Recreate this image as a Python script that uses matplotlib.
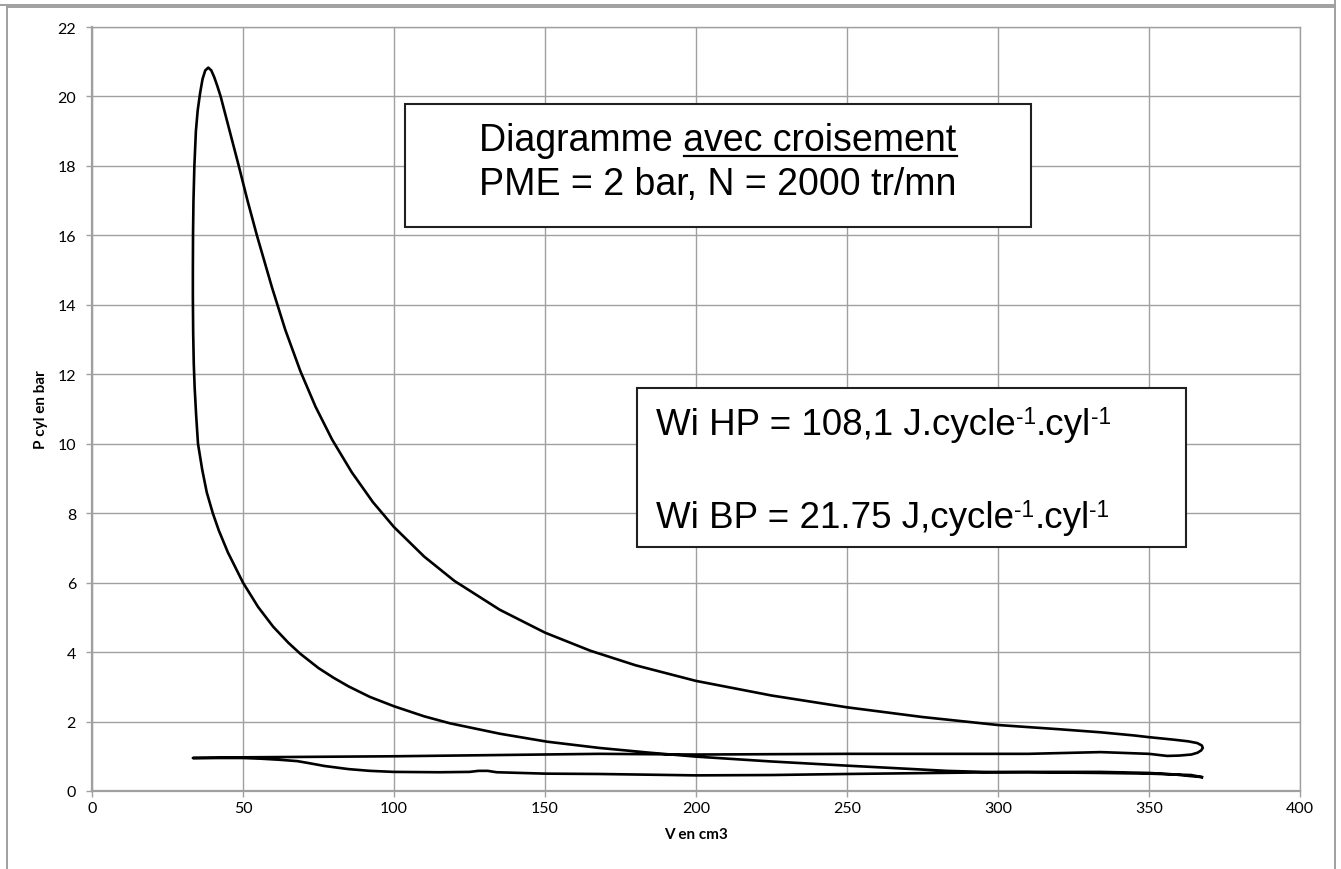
import matplotlib
matplotlib.use("Agg")
import matplotlib.pyplot as plt
from matplotlib.lines import Line2D
from matplotlib.patches import Rectangle

W, H = 1341, 870

# cycle, in order:
# compression, combustion peak, expansion, exhaust, intake
V_CM3 = [367.5, 364, 350, 334, 310, 295, 283, 270, 250, 225, 200, 185, 168,
         150.7, 135, 118.5, 110, 100, 92, 85, 80, 75, 69, 65, 60, 55, 50, 45,
         42, 40, 38, 36.5, 35.1, 34.5, 34.0, 33.7, 33.5, 33.4,
         33.4, 33.45, 33.6, 33.9, 34.4, 35.0, 35.8, 36.6, 37.5, 38.5, 39.5, 40.5,
         41.5, 42.6,
         45, 48.6, 51.5, 54.6, 59.6, 64, 69, 74, 79.5, 86, 93, 100, 110, 120,
         135, 150, 165, 180, 200, 225, 250, 275, 300, 320, 334, 345, 350,
         358, 363, 366, 367.5, 367.8, 367.3, 366, 364, 360, 356,
         350, 334, 310, 250, 200, 168, 100, 66.5, 50, 33.4,
         50, 56, 62, 68, 72, 77, 85, 92, 100, 115, 125, 128, 131, 134, 150, 168,
         200, 225, 250, 280, 310, 334, 350, 358, 363.6, 367.5]
P_BAR = [0.40, 0.46, 0.50, 0.52, 0.54, 0.55, 0.58, 0.64, 0.73, 0.85, 0.99, 1.10,
         1.24, 1.42, 1.65, 1.95, 2.15, 2.44, 2.71, 3.01, 3.26, 3.54, 3.95, 4.27,
         4.73, 5.30, 6.0, 6.87, 7.5, 8.0, 8.6, 9.25, 10.0, 10.8, 11.6, 12.3, 13.2,
         14.2,
         15.0, 16.0, 17.0, 18.0, 19.0, 19.6, 20.1, 20.5, 20.75, 20.83, 20.75, 20.55,
         20.3, 20.0,
         19.2, 18.0, 17.0, 16.0, 14.5, 13.28, 12.09, 11.07, 10.12, 9.18, 8.32, 7.6,
         6.75, 6.05, 5.22, 4.56, 4.04, 3.62, 3.17, 2.75, 2.41, 2.13, 1.90, 1.78,
         1.69, 1.60, 1.55, 1.48, 1.43, 1.38, 1.31, 1.24, 1.17, 1.10, 1.05, 1.02,
         1.01,
         1.07, 1.12, 1.07, 1.07, 1.05, 1.07, 1.0, 0.98, 0.97, 0.95,
         0.95, 0.93, 0.90, 0.86, 0.80, 0.72, 0.63, 0.58, 0.55, 0.54, 0.55, 0.58,
         0.58, 0.54, 0.50, 0.49, 0.45, 0.46, 0.49, 0.52, 0.55, 0.55, 0.52, 0.48,
         0.43, 0.40]

X_TICKS = list(range(0, 401, 50))
Y_TICKS = list(range(0, 23, 2))

TITLE_A = "Diagramme avec croisement"
TITLE_U = "avec croisement"
TITLE_B = "PME = 2 bar, N = 2000 tr/mn"
WI_HP = [("Wi HP = 108,1 J.cycle", False), ("-1", True), (".cyl", False), ("-1", True)]
WI_BP = [("Wi BP = 21.75 J,cycle", False), ("-1", True), (".cyl", False), ("-1", True)]

plt.rcParams["font.family"] = ["Lato", "DejaVu Sans"]
GRID = "#a0a0a0"
ARIAL = "Liberation Sans"


def fx(px):
    return px / W


def fy(py):
    return 1 - py / H


fig = plt.figure(figsize=(W / 100, H / 100), dpi=100)

# outer chart frames (cropped screenshot edges)
for xs, ys in [([0, 1335], [6, 6]), ([1335, 1335], [0, 6]),
               ([7, 1335], [8, 8]), ([7, 7], [8, 870]), ([1335, 1335], [8, 870])]:
    fig.add_artist(Line2D([fx(x) for x in xs], [fy(y) for y in ys],
                          color=GRID, lw=1.4, transform=fig.transFigure))

ax = fig.add_axes([fx(92), fy(792), (1300 - 92) / W, (792 - 28) / H])
ax.plot(V_CM3, P_BAR, color="black", lw=1.9, solid_joinstyle="round")
ax.set_xlim(0, 400)
ax.set_ylim(0, 22)
ax.set_xticks(X_TICKS)
ax.set_yticks(Y_TICKS)
ax.grid(True, color=GRID, lw=1.0)
ax.set_axisbelow(True)
for s in ax.spines.values():
    s.set_color(GRID)
    s.set_linewidth(1.0)
ax.spines["left"].set_linewidth(1.6)
ax.spines["bottom"].set_linewidth(1.6)
ax.tick_params(direction="out", length=4.5, width=1.0, color=GRID,
               labelsize=11.5, labelcolor="black")
ax.tick_params(axis="y", pad=7)
ax.tick_params(axis="x", pad=2.5)

ax.set_ylabel("P cyl en bar", fontweight="bold", fontsize=11, va="center")
ax.yaxis.set_label_coords((41 - 92) / 1208, 0.5)
ax.set_xlabel("V en cm3", fontweight="bold", fontsize=11, va="center")
ax.xaxis.set_label_coords(0.5, (792 - 835) / 764)

# text boxes
fig.add_artist(Rectangle((fx(405), fy(228)), (1031 - 405) / W, (228 - 105) / H,
                         transform=fig.transFigure, fc="white", ec="#202020", lw=1.5))
fig.add_artist(Rectangle((fx(637), fy(548)), (1186 - 637) / W, (548 - 389) / H,
                         transform=fig.transFigure, fc="white", ec="#202020", lw=1.5))

r = fig.canvas.get_renderer()
t1 = fig.text(fx(718), fy(151), TITLE_A, family=ARIAL, fontsize=27,
              ha="center", va="baseline")
fig.text(fx(718), fy(195), TITLE_B, family=ARIAL, fontsize=27,
         ha="center", va="baseline")
tmp = fig.text(0, 0, TITLE_U, family=ARIAL, fontsize=27)
wu = tmp.get_window_extent(r).width
tmp.remove()
bb = t1.get_window_extent(r)
fig.add_artist(Line2D([(bb.x1 - wu) / W, bb.x1 / W], [fy(157), fy(157)],
                      color="black", lw=1.6, transform=fig.transFigure))


def rich_line(x0, base, pieces, size):
    cur = x0
    for s, sup in pieces:
        y = base - 11 if sup else base
        t = fig.text(fx(cur), fy(y), s, family=ARIAL,
                     fontsize=size * (0.62 if sup else 1.0),
                     ha="left", va="baseline")
        cur += t.get_window_extent(r).width


rich_line(656, 435, WI_HP, 26.5)
rich_line(656, 528, WI_BP, 26.5)

fig.savefig("out.png", dpi=100)
